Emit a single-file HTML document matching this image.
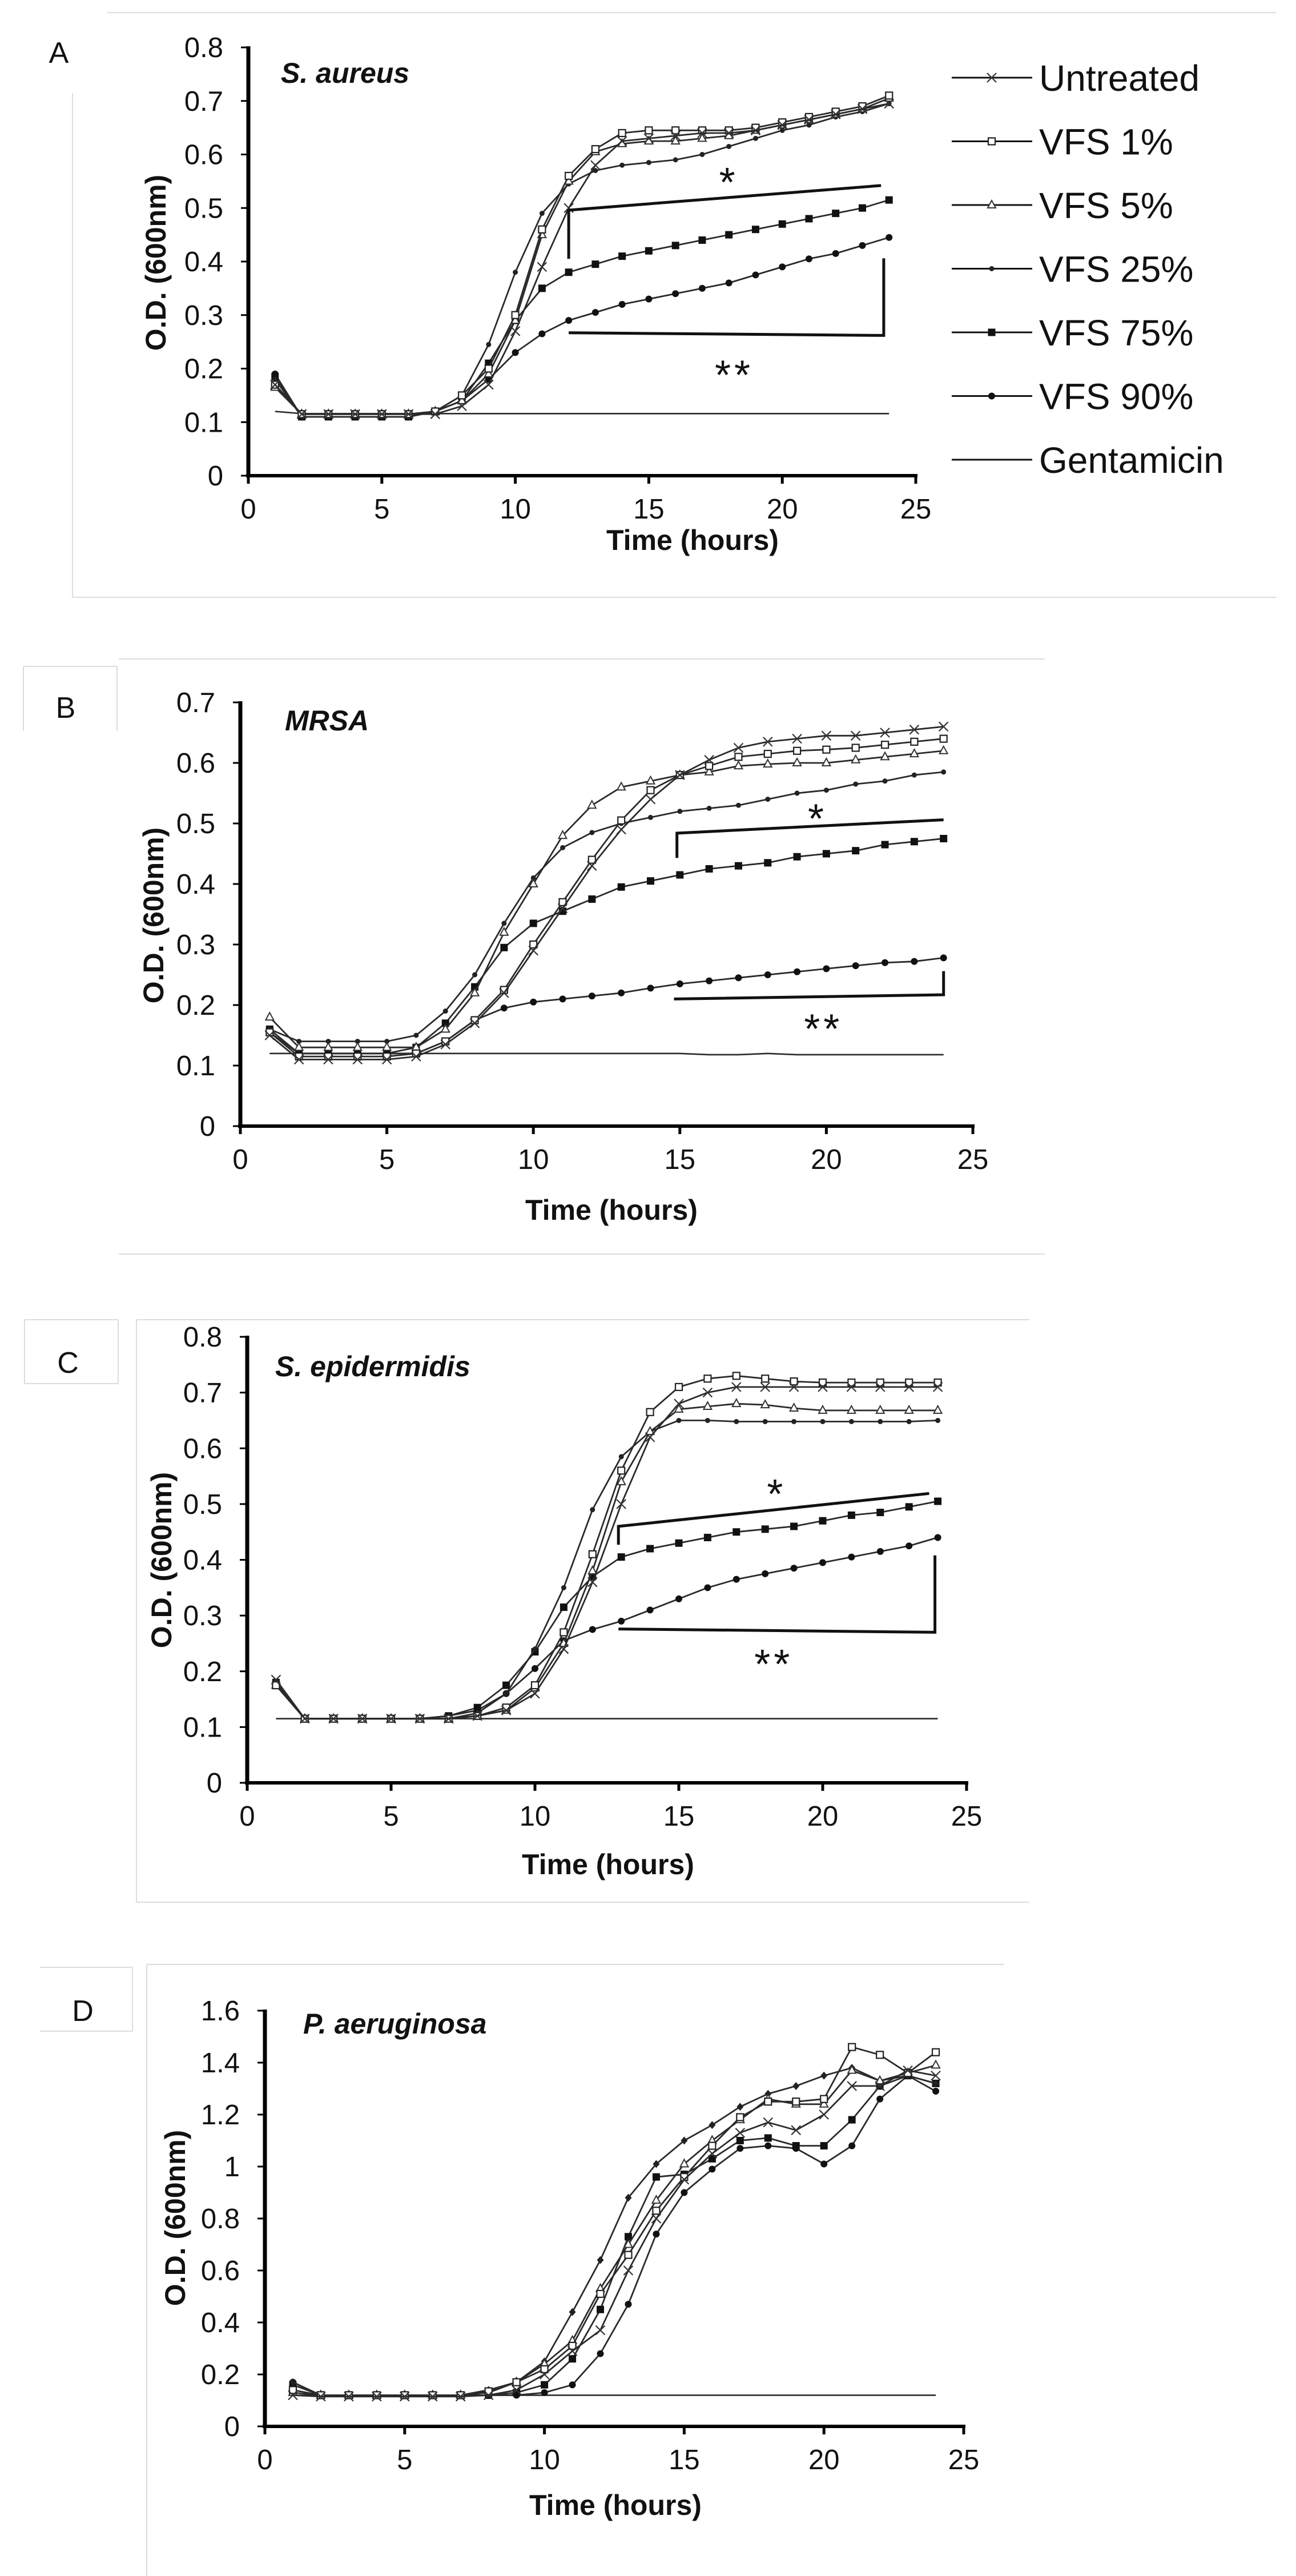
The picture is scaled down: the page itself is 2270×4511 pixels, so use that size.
<!DOCTYPE html>
<html><head><meta charset="utf-8"><style>
html,body{margin:0;padding:0;background:#fff;}
svg{display:block;}
text{font-family:"Liberation Sans",Arial,sans-serif;fill:#111;}
</style></head>
<body>
<svg id="fig" width="2270" height="4511" viewBox="0 0 2270 4511" xmlns="http://www.w3.org/2000/svg"></svg>
<script>
// ---------- data ----------
const hours=[1,2,3,4,5,6,7,8,9,10,11,12,13,14,15,16,17,18,19,20,21,22,23,24];
const xTicks=[0,5,10,15,20,25];
const yTicksA=[0,0.1,0.2,0.3,0.4,0.5,0.6,0.7,0.8];
const yTicksB=[0,0.1,0.2,0.3,0.4,0.5,0.6,0.7];
const yTicksC=[0,0.1,0.2,0.3,0.4,0.5,0.6,0.7,0.8];
const yTicksD=[0,0.2,0.4,0.6,0.8,1,1.2,1.4,1.6];
const legendLabels=["Untreated","VFS 1%","VFS 5%","VFS 25%","VFS 75%","VFS 90%","Gentamicin"];

const aUntreated=[0.17,0.115,0.115,0.115,0.115,0.115,0.115,0.13,0.17,0.27,0.39,0.50,0.58,0.625,0.63,0.635,0.64,0.64,0.645,0.655,0.665,0.675,0.685,0.695];
const aVfs1=[0.17,0.115,0.115,0.115,0.115,0.115,0.12,0.15,0.20,0.30,0.46,0.56,0.61,0.64,0.645,0.645,0.645,0.645,0.65,0.66,0.67,0.68,0.69,0.71];
const aVfs5=[0.165,0.115,0.115,0.115,0.115,0.115,0.12,0.14,0.19,0.29,0.45,0.55,0.605,0.62,0.625,0.625,0.63,0.635,0.645,0.655,0.665,0.675,0.685,0.705];
const aVfs25=[0.18,0.11,0.11,0.11,0.11,0.11,0.12,0.15,0.245,0.38,0.49,0.545,0.57,0.58,0.585,0.59,0.60,0.615,0.63,0.645,0.655,0.67,0.68,0.695];
const aVfs75=[0.185,0.11,0.11,0.11,0.11,0.11,0.12,0.14,0.21,0.29,0.35,0.38,0.395,0.41,0.42,0.43,0.44,0.45,0.46,0.47,0.48,0.49,0.50,0.515];
const aVfs90=[0.19,0.11,0.11,0.11,0.11,0.11,0.12,0.14,0.18,0.23,0.265,0.29,0.305,0.32,0.33,0.34,0.35,0.36,0.375,0.39,0.405,0.415,0.43,0.445];
const aGent=[0.12,0.116,0.116,0.116,0.116,0.116,0.116,0.116,0.116,0.116,0.116,0.116,0.116,0.116,0.116,0.116,0.116,0.116,0.116,0.116,0.116,0.116,0.116,0.116];

const bUntreated=[0.15,0.11,0.11,0.11,0.11,0.115,0.135,0.17,0.22,0.29,0.36,0.43,0.49,0.54,0.58,0.605,0.625,0.635,0.64,0.645,0.645,0.65,0.655,0.66];
const bVfs1=[0.155,0.115,0.115,0.115,0.115,0.12,0.14,0.175,0.225,0.30,0.37,0.44,0.505,0.555,0.58,0.595,0.61,0.615,0.62,0.622,0.625,0.63,0.635,0.64];
const bVfs5=[0.18,0.13,0.13,0.13,0.13,0.13,0.16,0.22,0.32,0.40,0.48,0.53,0.56,0.57,0.58,0.585,0.595,0.598,0.60,0.60,0.605,0.61,0.615,0.62];
const bVfs25=[0.16,0.14,0.14,0.14,0.14,0.15,0.19,0.25,0.335,0.41,0.46,0.485,0.50,0.51,0.52,0.525,0.53,0.54,0.55,0.555,0.565,0.57,0.58,0.585];
const bVfs75=[0.16,0.12,0.12,0.12,0.12,0.13,0.17,0.23,0.295,0.335,0.355,0.375,0.395,0.405,0.415,0.425,0.43,0.435,0.445,0.45,0.455,0.465,0.47,0.475];
const bVfs90=[0.155,0.12,0.12,0.12,0.12,0.12,0.14,0.175,0.195,0.205,0.21,0.215,0.22,0.228,0.235,0.24,0.245,0.25,0.255,0.26,0.265,0.27,0.272,0.278];
const bGent=[0.12,0.12,0.12,0.12,0.12,0.12,0.12,0.12,0.12,0.12,0.12,0.12,0.12,0.12,0.12,0.118,0.118,0.12,0.118,0.118,0.118,0.118,0.118,0.118];

const cUntreated=[0.185,0.115,0.115,0.115,0.115,0.115,0.115,0.12,0.13,0.16,0.24,0.36,0.50,0.62,0.68,0.70,0.71,0.71,0.71,0.71,0.71,0.71,0.71,0.71];
const cVfs1=[0.175,0.115,0.115,0.115,0.115,0.115,0.115,0.12,0.135,0.175,0.27,0.41,0.56,0.665,0.71,0.725,0.73,0.725,0.72,0.718,0.718,0.718,0.718,0.718];
const cVfs5=[0.175,0.115,0.115,0.115,0.115,0.115,0.115,0.12,0.13,0.17,0.25,0.38,0.54,0.63,0.67,0.675,0.68,0.678,0.672,0.668,0.668,0.668,0.668,0.668];
const cVfs25=[0.175,0.115,0.115,0.115,0.115,0.115,0.115,0.125,0.16,0.24,0.35,0.49,0.585,0.63,0.65,0.65,0.648,0.648,0.648,0.648,0.648,0.648,0.648,0.65];
const cVfs75=[0.18,0.115,0.115,0.115,0.115,0.115,0.12,0.135,0.175,0.235,0.315,0.37,0.405,0.42,0.43,0.44,0.45,0.455,0.46,0.47,0.48,0.485,0.495,0.505];
const cVfs90=[0.18,0.115,0.115,0.115,0.115,0.115,0.12,0.13,0.16,0.205,0.255,0.275,0.29,0.31,0.33,0.35,0.365,0.375,0.385,0.395,0.405,0.415,0.425,0.44];
const cGent=[0.115,0.115,0.115,0.115,0.115,0.115,0.115,0.115,0.115,0.115,0.115,0.115,0.115,0.115,0.115,0.115,0.115,0.115,0.115,0.115,0.115,0.115,0.115,0.115];

const dUntreated=[0.12,0.115,0.115,0.115,0.115,0.115,0.115,0.12,0.14,0.20,0.29,0.37,0.60,0.80,0.95,1.05,1.13,1.17,1.14,1.20,1.31,1.31,1.37,1.35];
const dVfs1=[0.14,0.12,0.12,0.12,0.12,0.12,0.12,0.135,0.17,0.22,0.31,0.51,0.66,0.83,0.96,1.08,1.19,1.25,1.25,1.26,1.46,1.43,1.36,1.44];
const dVfs5=[0.13,0.12,0.12,0.12,0.12,0.12,0.12,0.13,0.17,0.24,0.33,0.53,0.70,0.87,1.01,1.10,1.18,1.26,1.24,1.24,1.37,1.33,1.36,1.39];
const dVfs25=[0.17,0.12,0.12,0.12,0.12,0.12,0.12,0.14,0.17,0.25,0.44,0.64,0.88,1.01,1.10,1.16,1.23,1.28,1.31,1.35,1.38,1.33,1.35,1.32];
const dVfs75=[0.16,0.12,0.12,0.12,0.12,0.12,0.12,0.12,0.13,0.16,0.26,0.45,0.73,0.96,0.97,1.03,1.10,1.11,1.08,1.08,1.18,1.31,1.35,1.32];
const dVfs90=[0.17,0.12,0.12,0.12,0.12,0.12,0.12,0.12,0.12,0.13,0.16,0.28,0.47,0.74,0.90,0.99,1.07,1.08,1.07,1.01,1.08,1.26,1.35,1.29];
const dGent=[0.12,0.12,0.12,0.12,0.12,0.12,0.12,0.12,0.12,0.12,0.12,0.12,0.12,0.12,0.12,0.12,0.12,0.12,0.12,0.12,0.12,0.12,0.12,0.12];

// significance brackets (data coordinates)
const aStarBracket=[[12,0.405],[12,0.496],[23.7,0.542]];
const aDblBracket=[[12,0.267],[23.8,0.262],[23.8,0.406]];
const bStarBracket=[[14.9,0.443],[14.9,0.484],[24,0.506]];
const bDblBracket=[[14.8,0.210],[24,0.217],[24,0.256]];
const cStarBracket=[[12.9,0.427],[12.9,0.46],[23.7,0.519]];
const cDblBracket=[[12.9,0.276],[23.9,0.270],[23.9,0.408]];
const aStarPos=[18.0,0.545], aDblPos=[18.2,0.185];
const bStarPos=[19.7,0.505], bDblPos=[19.9,0.158];
const cStarPos=[18.4,0.515], cDblPos=[18.3,0.21];

// ---------- drawing ----------
const NS="http://www.w3.org/2000/svg";
const svg=document.getElementById('fig');
function mk(tag,attrs,parent){const e=document.createElementNS(NS,tag);for(const k in attrs)e.setAttribute(k,attrs[k]);(parent||svg).appendChild(e);return e;}
function gline(x1,y1,x2,y2,parent){const l=mk('line',{x1:x1,y1:y1,x2:x2,y2:y2,stroke:'#dcdcdc','stroke-width':2},parent);return l;}

function marker(type,x,y,g){
  let m;
  if(type==='x'){m=mk('path',{d:`M${x-8},${y-8}L${x+8},${y+8}M${x-8},${y+8}L${x+8},${y-8}`,stroke:'#333','stroke-width':2.2,fill:'none'},g);}
  else if(type==='sq'){m=mk('rect',{x:x-6,y:y-6,width:12,height:12,fill:'#fff',stroke:'#222','stroke-width':2.2},g);}
  else if(type==='tri'){m=mk('path',{d:`M${x},${y-8}L${x+7},${y+5}L${x-7},${y+5}Z`,fill:'#fff',stroke:'#333','stroke-width':2},g);}
  else if(type==='dot'){m=mk('circle',{cx:x,cy:y,r:4.5,fill:'#222'},g);}
  else if(type==='dia'){m=mk('path',{d:`M${x},${y-7}L${x+6},${y}L${x},${y+7}L${x-6},${y}Z`,fill:'#222'},g);}
  else if(type==='fsq'){m=mk('rect',{x:x-6.5,y:y-6.5,width:13,height:13,fill:'#111'},g);}
  else if(type==='fc'){m=mk('circle',{cx:x,cy:y,r:6,fill:'#111'},g);}
  if(m){}
}

function drawPanel(p){
  const g=mk('g',{});
  
  
  const sx=v=>p.x0+(v/25)*(p.x25-p.x0);
  const sy=v=>p.y0-(v/p.ymax)*(p.y0-p.ytop);
  p.series.forEach(s=>{
    const sg=mk('g',{},g);
    
    
    const pts=hours.map((h,i)=>sx(h).toFixed(1)+','+sy(s.vals[i]).toFixed(1)).join(' ');
    const pl=mk('polyline',{points:pts,fill:'none',stroke:'#2a2a2a','stroke-width':s.mk==='none'?2.6:2.8,'stroke-linejoin':'round'},sg);
    
    
    if(s.mk!=='none')hours.forEach((h,i)=>marker(s.mk,sx(h),sy(s.vals[i]),sg));
  });
  (p.brackets||[]).forEach((b,bi)=>{
    const pts=b.map(q=>sx(q[0]).toFixed(1)+','+sy(q[1]).toFixed(1)).join(' ');
    const bl=mk('polyline',{points:pts,fill:'none',stroke:'#111','stroke-width':5},g);
    
    
  });
  (p.stars||[]).forEach((s,si)=>{
    const t=mk('text',{x:sx(s.pos[0]),y:sy(s.pos[1])+22,'font-size':72,'text-anchor':'middle','letter-spacing':6},g);
    t.textContent=s.txt;
    
    
  });
  const ax=mk('g',{},g);
  
  
  mk('line',{x1:p.x0,y1:p.ytop-2,x2:p.x0,y2:p.y0+3,stroke:'#000','stroke-width':7},ax);
  mk('line',{x1:p.x0-4,y1:p.y0,x2:p.x25+3,y2:p.y0,stroke:'#000','stroke-width':6},ax);
  p.yticks.forEach(v=>{
    const y=sy(v);
    mk('line',{x1:p.x0-13,y1:y,x2:p.x0,y2:y,stroke:'#000','stroke-width':3},ax);
    const t=mk('text',{x:p.x0-44,y:y+17,'font-size':49,'text-anchor':'end',fill:'#222'},ax);
    t.textContent=String(v);
    
    
  });
  xTicks.forEach(v=>{
    const x=sx(v);
    mk('line',{x1:x,y1:p.y0,x2:x,y2:p.y0+14,stroke:'#000','stroke-width':5},ax);
    const t=mk('text',{x:x,y:p.y0+75,'font-size':49,'text-anchor':'middle',fill:'#222'},ax);
    t.textContent=String(v);
    
    
  });
  const xt=mk('text',{x:p.xtx,y:p.xty,'font-size':50,'font-weight':'bold','text-anchor':'middle'},g);
  xt.textContent='Time (hours)';
  
  
  const yt=mk('text',{x:0,y:0,'font-size':50,'font-weight':'bold','text-anchor':'middle',transform:`translate(${p.ytx},${p.yty}) rotate(-90)`},g);
  yt.textContent='O.D. (600nm)';
  
  
  const sp=mk('text',{x:p.spx,y:p.spy,'font-size':50,'font-weight':'bold','font-style':'italic'},g);
  sp.textContent=p.species;
  
  
  const lt=mk('text',{x:p.lx,y:p.ly,'font-size':52,'text-anchor':'middle',fill:'#222'},g);
  lt.textContent=p.letter;
  
  
}

function seriesSet(u,v1,v5,v25,v75,v90,gm,m25){
  return [
    {key:'gentamicin',vals:gm,mk:'none'},
    {key:'vfs-90',vals:v90,mk:'fc'},
    {key:'vfs-75',vals:v75,mk:'fsq'},
    {key:'vfs-25',vals:v25,mk:m25||'dot'},
    {key:'vfs-5',vals:v5,mk:'tri'},
    {key:'vfs-1',vals:v1,mk:'sq'},
    {key:'untreated',vals:u,mk:'x'}
  ];
}

const fr=mk('g',{});


gline(188,22,2235,22,fr); gline(127,163,127,1046,fr); gline(127,1046,2235,1046,fr);
gline(41,1167,205,1167,fr); gline(41,1167,41,1280,fr); gline(205,1167,205,1280,fr);
gline(208,1154,1830,1154,fr); gline(208,2196,1830,2196,fr);
gline(43,2311,207,2311,fr); gline(43,2311,43,2423,fr); gline(43,2423,207,2423,fr); gline(207,2311,207,2423,fr);
gline(239,2311,1803,2311,fr); gline(239,2311,239,3331,fr); gline(239,3331,1803,3331,fr);
gline(70,3445,232,3445,fr); gline(70,3557,232,3557,fr); gline(232,3445,232,3557,fr);
gline(257,3440,1759,3440,fr); gline(257,3440,257,4511,fr);

drawPanel({name:'panel-a',letter:'A',lx:103,ly:110,species:'S. aureus',spx:492,spy:145,
  x0:435,x25:1604,y0:833,ytop:83,ymax:0.8,yticks:yTicksA,xtx:1213,xty:963,ytx:290,yty:460,
  series:seriesSet(aUntreated,aVfs1,aVfs5,aVfs25,aVfs75,aVfs90,aGent),
  brackets:[aStarBracket,aDblBracket],stars:[{txt:'*',pos:aStarPos},{txt:'**',pos:aDblPos}]});
drawPanel({name:'panel-b',letter:'B',lx:115,ly:1257,species:'MRSA',spx:499,spy:1279,
  x0:421,x25:1704,y0:1972,ytop:1230,ymax:0.7,yticks:yTicksB,xtx:1071,xty:2136,ytx:286,yty:1603,
  series:seriesSet(bUntreated,bVfs1,bVfs5,bVfs25,bVfs75,bVfs90,bGent),
  brackets:[bStarBracket,bDblBracket],stars:[{txt:'*',pos:bStarPos},{txt:'**',pos:bDblPos}]});
drawPanel({name:'panel-c',letter:'C',lx:119,ly:2404,species:'S. epidermidis',spx:482,spy:2410,
  x0:433,x25:1693,y0:3122,ytop:2341,ymax:0.8,yticks:yTicksC,xtx:1065,xty:3282,ytx:300,yty:2732,
  series:seriesSet(cUntreated,cVfs1,cVfs5,cVfs25,cVfs75,cVfs90,cGent),
  brackets:[cStarBracket,cDblBracket],stars:[{txt:'*',pos:cStarPos},{txt:'**',pos:cDblPos}]});
drawPanel({name:'panel-d',letter:'D',lx:145,ly:3539,species:'P. aeruginosa',spx:531,spy:3561,
  x0:464,x25:1688,y0:4249,ytop:3521,ymax:1.6,yticks:yTicksD,xtx:1078,xty:4404,ytx:324,yty:3884,
  series:seriesSet(dUntreated,dVfs1,dVfs5,dVfs25,dVfs75,dVfs90,dGent,'dia')});

const lg=mk('g',{});


const legendMarkers=['x','sq','tri','dot','fsq','fc','none'];
const legendY0=136, legendStep=111.5;
legendLabels.forEach((lab,i)=>{
  const y=legendY0+i*legendStep;
  const eg=mk('g',{},lg);
  
  
  mk('line',{x1:1667,y1:y,x2:1808,y2:y,stroke:'#111','stroke-width':3},eg);
  if(legendMarkers[i]!=='none')marker(legendMarkers[i],1737,y,eg);
  const t=mk('text',{x:1820,y:y+23,'font-size':64,fill:'#222'},eg);
  t.textContent=lab;
});
</script>
</body></html>
